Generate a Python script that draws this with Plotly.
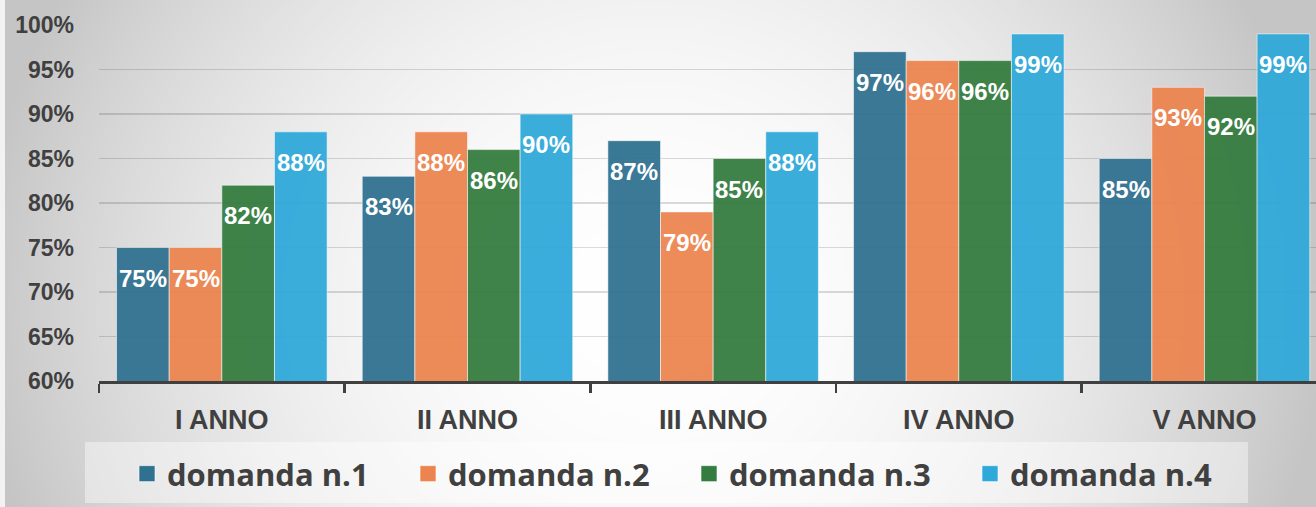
import base64
import struct
import zlib

import numpy as np
import plotly.graph_objects as go

# ---------------- data ----------------
categories = ["I ANNO", "II ANNO", "III ANNO", "IV ANNO", "V ANNO"]
series_names = ["domanda n.1", "domanda n.2", "domanda n.3", "domanda n.4"]
domanda_1 = [75, 83, 87, 97, 85]
domanda_2 = [75, 88, 79, 96, 93]
domanda_3 = [82, 86, 85, 96, 92]
domanda_4 = [88, 90, 88, 99, 99]
y_tick_values = [60, 65, 70, 75, 80, 85, 90, 95, 100]
y_tick_labels = [f"{v}%" for v in y_tick_values]

series_values = [domanda_1, domanda_2, domanda_3, domanda_4]
colors = ["#2f7190", "#ec844f", "#347c3f", "#2fa9da"]

# ---------------- layout constants ----------------
W, H = 1316, 507
ML, MR, MT, MB = 99, 0, 25, 126
PW, PH = W - ML - MR, H - MT - MB
BARGAP = 0.143
X_RANGE = [-0.5, 4.454]
TXT = "#404040"


# ---------------- background gradient (decoration) ----------------
def gray_png_uri(arr):
    h, w = arr.shape
    raw = b"".join(b"\x00" + arr[r].tobytes() for r in range(h))

    def chunk(tag, data):
        c = struct.pack(">I", len(data)) + tag + data
        return c + struct.pack(">I", zlib.crc32(tag + data) & 0xFFFFFFFF)

    png = b"\x89PNG\r\n\x1a\n"
    png += chunk(b"IHDR", struct.pack(">IIBBBBB", w, h, 8, 0, 0, 0, 0))
    png += chunk(b"IDAT", zlib.compress(raw, 9))
    png += chunk(b"IEND", b"")
    return "data:image/png;base64," + base64.b64encode(png).decode()


yy, xx = np.mgrid[0:H, 0:W].astype(float)
d2 = ((xx - 650) / 700) ** 2 + ((yy - 300) / 650) ** 2
L = 255 - 62 * np.clip(d2, 0, 0.92)
L[:, :5] = 242
bg_uri = gray_png_uri(np.clip(L, 0, 255).astype(np.uint8))

fig = go.Figure()

for name, vals, col in zip(series_names, series_values, colors):
    fig.add_trace(
        go.Bar(
            x=categories,
            y=vals,
            name=name,
            showlegend=False,
            marker=dict(
                color=col,
                opacity=0.94,
                line=dict(color="rgba(255,255,255,0.55)", width=1),
            ),
            hoverinfo="x+y+name",
        )
    )

# legend entries (bigger squares than bar legend icons)
for name, col in zip(series_names, colors):
    fig.add_trace(
        go.Scatter(
            x=[None],
            y=[None],
            name=name,
            mode="markers",
            marker=dict(symbol="square", size=16, color=col,
                        line=dict(color="rgba(255,255,255,0.6)", width=1)),
        )
    )

# data labels placed inside the top of each bar
bw = (1 - BARGAP) / len(series_values)
annotations = []
for i, vals in enumerate(series_values):
    for j, v in enumerate(vals):
        annotations.append(
            dict(
                x=j + (i - (len(series_values) - 1) / 2) * bw,
                y=v,
                xref="x",
                yref="y",
                text=f"{v}%",
                showarrow=False,
                xanchor="center",
                yanchor="top",
                yshift=-15,
                font=dict(family="Liberation Sans, Arial, sans-serif", size=24,
                          color="white", weight="bold"),
            )
        )

fig.update_layout(
    width=W,
    height=H,
    autosize=False,
    margin=dict(l=ML, r=MR, t=MT, b=MB, pad=0),
    paper_bgcolor="white",
    plot_bgcolor="rgba(0,0,0,0)",
    barmode="group",
    bargap=BARGAP,
    bargroupgap=0,
    annotations=annotations,
    images=[
        dict(
            source=bg_uri,
            xref="paper",
            yref="paper",
            x=-ML / PW,
            y=1 + MT / PH,
            sizex=W / PW,
            sizey=H / PH,
            xanchor="left",
            yanchor="top",
            sizing="stretch",
            layer="below",
        )
    ],
    shapes=[
        dict(
            type="rect",
            xref="paper",
            yref="paper",
            x0=(85 - ML) / PW,
            x1=(1248 - ML) / PW,
            y0=(PH + MT - 503) / PH,
            y1=(PH + MT - 442) / PH,
            fillcolor="rgba(255,255,255,0.42)",
            line=dict(width=0),
            layer="below",
        )
    ],
    legend=dict(
        orientation="h",
        x=(127 - ML) / PW,
        xanchor="left",
        y=(PH + MT - 447) / PH,
        yanchor="top",
        bgcolor="rgba(0,0,0,0)",
        borderwidth=0,
        itemsizing="trace",
        entrywidth=236,
        font=dict(family="Open Sans, Noto Sans, sans-serif", size=31,
                  color=TXT, weight="bold"),
    ),
    xaxis=dict(
        type="category",
        range=X_RANGE,
        showgrid=False,
        showline=True,
        linecolor=TXT,
        linewidth=3,
        ticks="outside",
        tickson="boundaries",
        ticklen=9,
        tickwidth=2.5,
        tickcolor=TXT,
        ticklabelstandoff=13,
        tickfont=dict(family="Liberation Sans Narrow, Liberation Sans, sans-serif",
                      size=27, color=TXT, weight="bold"),
        fixedrange=True,
    ),
    yaxis=dict(
        range=[60, 100],
        tickmode="array",
        tickvals=y_tick_values,
        ticktext=y_tick_labels,
        showgrid=True,
        gridcolor="rgba(0,0,0,0.14)",
        gridwidth=1.5,
        showline=False,
        zeroline=False,
        ticks="",
        ticklabelstandoff=24,
        tickfont=dict(family="Liberation Sans, Arial, sans-serif", size=23,
                      color=TXT, weight="bold"),
        fixedrange=True,
    ),
)

fig.write_html(
    "out.html",
    config={"displayModeBar": False, "staticPlot": True},
    post_script="document.body.style.margin='0';document.body.style.overflow='hidden';",
)
